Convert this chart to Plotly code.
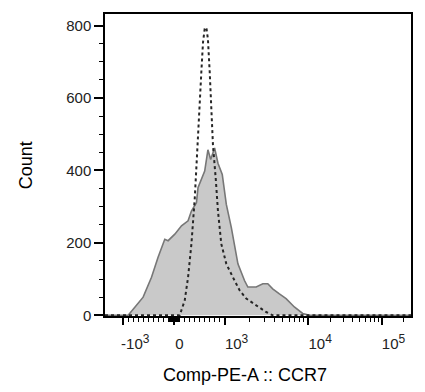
import numpy as np
import plotly.graph_objects as go

# ---------------- data (display channel 0-256 on a biexponential scale) ----------------
stained_channel = [0, 19.4, 31.9, 38.9, 44.4, 50.0, 52.8, 58.4, 64.0, 69.5, 72.3, 76.5, 77.8,
                   83.4, 86.1, 88.4, 91.7, 94.5, 98.1, 101.5, 105.7, 111.2, 116.7, 119.5,
                   126.5, 132.0, 136.2, 140.3, 145.9, 151.5, 158.4, 165.4, 171.0, 256]
stained_count = [0, 0, 50, 105, 160, 210, 206, 224, 247, 261, 288, 311, 352,
                 398, 457, 430, 462, 420, 389, 306, 242, 142, 96, 78,
                 78, 87, 87, 73, 59, 46, 23, 5, 0, 0]

control_channel = [0, 62.5, 66.7, 69.5, 72.3, 75.1, 77.0, 78.6, 80.6, 82.0, 83.4, 84.8, 86.1,
                   87.6, 89.0, 90.3, 92.6, 94.5, 97.3, 101.5, 107.0, 112.6, 118.2, 126.5,
                   134.8, 140.3, 256]
control_count = [0, 0, 41, 105, 197, 324, 443, 562, 672, 754, 791, 795, 763,
                 672, 562, 471, 379, 288, 197, 142, 105, 69, 46, 27,
                 9, 0, 0]

major_tick_values = [-1000, 0, 1000, 10000, 100000]
major_tick_labels = ["-10<sup><span style='font-size:12px'>3</span></sup>", "0",
                     "10<sup><span style='font-size:12px'>3</span></sup>",
                     "10<sup><span style='font-size:12px'>4</span></sup>",
                     "10<sup><span style='font-size:12px'>5</span></sup>"]
minor_tick_values = ([-900 + 100 * i for i in range(9)] + [-90 + 10 * i for i in range(9)] +
                     [10 * i for i in range(1, 10)] + [100 * i for i in range(1, 10)] +
                     [1000 * i for i in range(2, 10)] + [10000 * i for i in range(2, 10)] +
                     [200000])

y_major = [0, 200, 400, 600, 800]
y_labels = ["0", "200", "400", "600", "800"]
y_minor = [50 * i for i in range(1, 17) if i % 4 != 0]


# ---------------- biexponential display transform ----------------
def to_channel(v):
    v = np.asarray(v, dtype=float)
    zero_ch, slope = 57.7, 0.0424
    ch_1e3, ch_1e4, ch_1e5, dec_hi = 100.1, 169.5, 231.8, 60.0
    out = zero_ch + v * slope
    m1 = (v > 1000) & (v <= 10000)
    out = np.where(m1, ch_1e3 + (ch_1e4 - ch_1e3) * np.log10(np.clip(v, 1, None) / 1e3), out)
    m2 = (v > 10000) & (v <= 100000)
    out = np.where(m2, ch_1e4 + (ch_1e5 - ch_1e4) * np.log10(np.clip(v, 1, None) / 1e4), out)
    m3 = v > 100000
    out = np.where(m3, ch_1e5 + dec_hi * np.log10(np.clip(v, 1, None) / 1e5), out)
    return out


major_pos = to_channel(major_tick_values)
minor_pos = to_channel(minor_tick_values)
label_shift = np.array([10, 4.5, 10, 10.5, 9.6])
label_pos = major_pos + label_shift

XR = [0, 256]
YR = [-2, 832]
font = "Liberation Sans, Arial, sans-serif"

fig = go.Figure()
fig.add_trace(go.Scatter(x=stained_channel, y=stained_count, mode="lines",
                         line=dict(color="#777777", width=1.6),
                         fill="tozeroy", fillcolor="#c9c9c9", showlegend=False))
fig.add_trace(go.Scatter(x=control_channel, y=control_count, mode="lines",
                         line=dict(color="#262626", width=2, dash="dot"),
                         showlegend=False))
# invisible trace so the label axis exists
fig.add_trace(go.Scatter(x=[XR[0]], y=[0], xaxis="x2", mode="markers",
                         marker=dict(opacity=0), showlegend=False, hoverinfo="skip"))

fig.update_layout(
    width=425, height=392,
    margin=dict(l=105, r=13, t=12, b=76),
    paper_bgcolor="white", plot_bgcolor="white",
    font=dict(family=font, color="#222222"),
    xaxis=dict(range=XR, showgrid=False, zeroline=False,
               showline=True, linecolor="black", linewidth=1.5, mirror=True,
               tickmode="array", tickvals=list(major_pos), showticklabels=False,
               ticks="outside", ticklen=7, tickwidth=2, tickcolor="black",
               minor=dict(tickmode="array", tickvals=list(minor_pos), ticks="outside",
                          ticklen=4, tickwidth=1.3, tickcolor="black")),
    xaxis2=dict(range=XR, overlaying="x", side="bottom", anchor="y",
                showgrid=False, zeroline=False, showline=False,
                tickmode="array", tickvals=list(label_pos), ticktext=major_tick_labels,
                ticks="", ticklabelstandoff=17,
                tickfont=dict(size=15, color="#222222", family=font)),
    yaxis=dict(range=YR, showgrid=False, zeroline=False,
               showline=True, linecolor="black", linewidth=1.5, mirror=True,
               tickmode="array", tickvals=y_major, ticktext=y_labels,
               ticks="outside", ticklen=9, tickwidth=2, tickcolor="black",
               tickfont=dict(size=15, color="#222222", family=font),
               minor=dict(tickmode="array", tickvals=y_minor,
                          ticks="outside", ticklen=4, tickwidth=1.3, tickcolor="black")),
    annotations=[
        dict(text="Comp-PE-A :: CCR7", xref="paper", yref="paper", x=0.456, y=-0.195,
             xanchor="center", yanchor="middle", showarrow=False,
             font=dict(size=18, color="black", family=font)),
        dict(text="Count", xref="paper", yref="paper", x=-0.257, y=0.5, textangle=-90,
             xanchor="center", yanchor="middle", showarrow=False,
             font=dict(size=18, color="black", family=font)),
    ],
)

fig.write_html("out.html")
